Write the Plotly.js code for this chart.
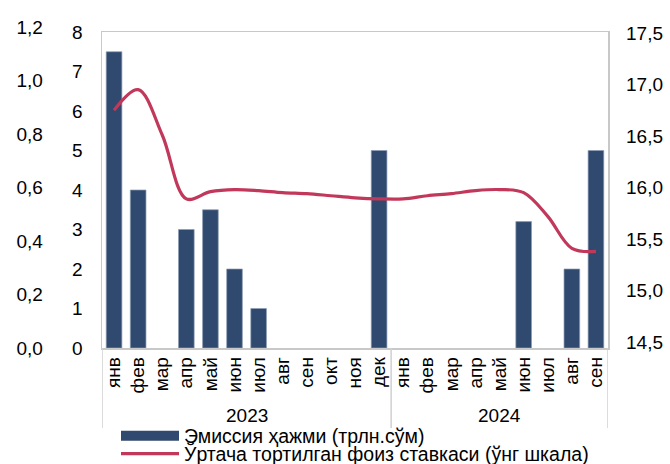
<!DOCTYPE html>
<html>
<head>
<meta charset="utf-8">
<script src="https://cdn.plot.ly/plotly-3.0.1.min.js"></script>
<style>html,body{margin:0;padding:0;background:#fff;}#chart{width:670px;height:464px;}</style>
</head>
<body>
<div id="chart"></div>
<script>
const years = ['2023','2023','2023','2023','2023','2023','2023','2023','2023','2023','2023','2023',
               '2024','2024','2024','2024','2024','2024','2024','2024','2024'];
const months = ['янв','фев','мар','апр','май','июн','июл','авг','сен','окт','ноя','дек',
                'янв','фев','мар','апр','май','июн','июл','авг','сен'];
const emission = [7.5, 4, null, 3, 3.5, 2, 1, null, null, null, null, 5,
                  null, null, null, null, null, 3.2, null, 2, 5];
const rate = [16.75, 16.95, 16.51, 15.89, 15.96, 15.98, 15.97, 15.95, 15.94, 15.92, 15.90, 15.89,
              15.89, 15.92, 15.94, 15.97, 15.98, 15.95, 15.72, 15.41, 15.38];
const outerTicks = [0, 0.2, 0.4, 0.6, 0.8, 1.0, 1.2];
const rightTicks = [14.5, 15.0, 15.5, 16.0, 16.5, 17.0, 17.5];
const leftTicks = [0,1,2,3,4,5,6,7,8];

const keys = months.map((m, i) => years[i] + ' ' + m);
const yearList = [...new Set(years)];

const FAM = 'Liberation Sans, Arial, sans-serif';
const tickF = {family: FAM, size: 19, color: '#000'};
const catF = {family: FAM, size: 19, color: '#000'};
const legF = {family: FAM, size: 19.5, color: '#000'};
const BAR = '#2F4A6E', LINE = '#C2385A', GRID = '#D0D0D0';

const traces = [
  {type: 'bar', x: keys, y: emission, name: 'Эмиссия ҳажми (трлн.сўм)',
   marker: {color: BAR, line: {color: '#8C9CB4', width: 0.7}}, width: 0.65,
   xaxis: 'x', yaxis: 'y', hoverinfo: 'skip', showlegend: false},
  {type: 'scatter', mode: 'lines', x: keys.slice(0, 2), y: [-100, -100],
   name: 'Эмиссия ҳажми (трлн.сўм)', line: {color: BAR, width: 11}, legend: 'legend',
   xaxis: 'x', yaxis: 'y', hoverinfo: 'skip'},
  {type: 'scatter', mode: 'lines', x: keys, y: rate,
   name: 'Ўртача тортилган фоиз ставкаси (ўнг шкала)', legend: 'legend2',
   line: {color: LINE, width: 3.2, shape: 'spline', smoothing: 1.0},
   xaxis: 'x', yaxis: 'y2', hoverinfo: 'skip'},
  {type: 'scatter', mode: 'lines', x: [keys[0]], y: [0],
   showlegend: false, xaxis: 'x', yaxis: 'y4', hoverinfo: 'skip'}
];

const annotations = [], shapes = [];
const bounds = [-0.5];
yearList.forEach(yr => {
  const first = years.indexOf(yr), last = years.lastIndexOf(yr);
  annotations.push({xref: 'x', yref: 'paper', x: (first + last) / 2, y: (348 - 415) / 321,
                    text: yr, showarrow: false, font: catF, xanchor: 'center', yanchor: 'middle'});
  bounds.push(last + 0.5);
});
bounds.forEach(b => shapes.push({type: 'line', xref: 'x', yref: 'paper', x0: b, x1: b,
                                 y0: 0, y1: (348 - 428) / 321, line: {color: GRID, width: 1.5}}));

const H = 464 - 27 - 116;
const legBase = {orientation: 'v', xanchor: 'left', yanchor: 'middle', font: legF,
                 bgcolor: 'rgba(0,0,0,0)', itemwidth: 58};
const layout = {
  width: 670, height: 464,
  margin: {l: 10, r: 62, t: 27, b: 116, autoexpand: false},
  paper_bgcolor: '#fff', plot_bgcolor: 'rgba(0,0,0,0)',
  separators: ', ',
  font: tickF,
  showlegend: true,
  annotations: annotations,
  shapes: shapes,
  xaxis: {type: 'category', domain: [(102-10)/598, 1], anchor: 'y', automargin: false,
          range: [-0.5, keys.length - 0.5], autorange: false,
          tickmode: 'array', tickvals: keys, ticktext: months,
          tickangle: -90, tickfont: catF, showline: true, mirror: true,
          linecolor: '#C8C8C8', linewidth: 1.5, showgrid: false, ticks: '', ticklabelstandoff: 0},
  yaxis: {domain: [0, (H-5)/H], range: [0, 8], tickvals: leftTicks, showgrid: false, automargin: false,
          zeroline: false, showline: true, mirror: true, linecolor: '#C8C8C8', linewidth: 1.5,
          ticks: '', ticklabelstandoff: 14, tickfont: tickF},
  yaxis2: {overlaying: 'y', side: 'right', range: [14.5 - 6/103, 17.5 + 1/103], automargin: false,
           tickvals: rightTicks, tickformat: '.1f', showgrid: false, zeroline: false,
           showline: false, ticks: '', ticklabelstandoff: 17, tickfont: tickF},
  yaxis4: {domain: [0, 1], anchor: 'free', position: 0.055, side: 'left', range: [0, 1.2], automargin: false,
           tickvals: outerTicks, tickformat: '.1f', showgrid: false, zeroline: false,
           showline: false, ticks: '', tickfont: tickF},
  legend: Object.assign({}, legBase, {x: (116 - 10)/598, y: (348 - 436)/H}),
  legend2: Object.assign({}, legBase, {x: (116 - 10)/598, y: (348 - 454)/H})
};

Plotly.newPlot('chart', traces, layout, {displayModeBar: false, staticPlot: true});
</script>
</body>
</html>
